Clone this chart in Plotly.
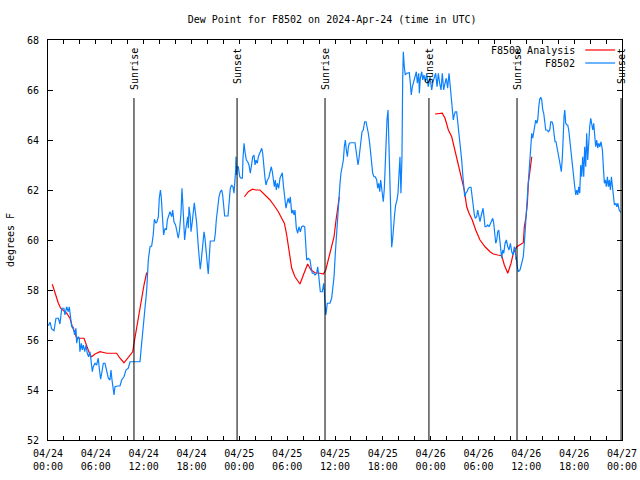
import pandas as pd
import plotly.graph_objects as go

# ---------------- data ----------------
start = pd.Timestamp("2024-04-24 00:00")

# F8502 observations: hours since 04/24 00:00 UTC, dew point (F)
obs_hours = [0.04, 0.25, 0.46, 0.75, 1.0, 1.3, 1.5, 1.72, 2.0, 2.13, 2.34, 2.55, 2.67, 2.84, 2.97, 3.18, 3.34, 3.5, 3.6, 3.76,
             3.93, 4.0, 4.18, 4.3, 4.43, 4.6, 4.77, 4.93, 5.1, 5.27, 5.39, 5.56, 5.68, 5.9, 6.1, 6.3, 6.43, 6.6, 6.77, 6.94,
             7.15, 7.36, 7.57, 7.78, 7.9, 8.03, 8.28, 8.4, 8.7, 9.03, 9.24, 9.53, 9.78, 10.07, 10.29, 10.7, 11.54, 11.67, 11.96, 12.17,
             12.38, 12.58, 12.8, 13.0, 13.2, 13.34, 13.55, 13.67, 13.84, 13.96, 14.1, 14.2, 14.34, 14.5, 14.68, 14.85, 14.97, 15.1, 15.3, 15.52,
             15.64, 15.8, 16.0, 16.18, 16.34, 16.5, 16.68, 16.81, 16.93, 17.06, 17.14, 17.27, 17.4, 17.52, 17.6, 17.69, 17.85, 17.94, 18.1, 18.23,
             18.35, 18.48, 18.65, 18.85, 18.98, 19.1, 19.23, 19.4, 19.57, 19.69, 19.86, 19.98, 20.1, 20.23, 20.36, 20.86, 20.99, 21.11, 21.28, 21.45,
             21.61, 21.79, 21.91, 22.04, 22.16, 22.58, 22.7, 22.87, 23.04, 23.2, 23.33, 23.42, 23.54, 23.58, 23.66, 23.71, 23.87, 24.05, 24.21, 24.38,
             24.46, 24.59, 24.71, 24.88, 25.05, 25.21, 25.38, 25.55, 25.68, 25.84, 25.97, 26.09, 26.26, 26.38, 26.59, 26.81, 26.93, 27.06, 27.22, 27.35,
             27.51, 27.68, 27.85, 28.01, 28.14, 28.26, 28.39, 28.51, 28.64, 28.77, 28.94, 29.1, 29.23, 29.39, 29.52, 29.69, 29.85, 30.02, 30.14, 30.27,
             30.39, 30.57, 30.73, 30.86, 30.98, 31.15, 31.32, 31.48, 31.65, 31.82, 32.03, 32.2, 32.32, 32.45, 32.66, 32.87, 32.99, 33.15, 33.33, 33.49,
             33.7, 33.83, 33.95, 34.08, 34.16, 34.41, 34.58, 34.66, 34.78, 34.84, 34.9, 35.03, 35.37, 35.58, 35.71, 35.88, 36.04, 36.22, 36.34, 36.5,
             36.63, 36.75, 36.88, 37.05, 37.17, 37.3, 37.42, 37.55, 37.68, 37.8, 37.98, 38.22, 38.51, 38.63, 38.76, 38.89, 39.01, 39.14, 39.26, 39.39,
             39.55, 39.72, 39.89, 40.05, 40.18, 40.35, 40.48, 40.6, 40.73, 40.89, 41.06, 41.23, 41.36, 41.48, 41.61, 41.73, 41.86, 41.98, 42.06, 42.19,
             42.27, 42.4, 42.52, 42.65, 42.73, 42.81, 42.9, 43.02, 43.11, 43.24, 43.36, 43.49, 43.61, 43.78, 43.9, 43.99, 44.07, 44.15, 44.27, 44.4,
             44.49, 44.57, 44.69, 44.82, 44.99, 45.16, 45.32, 45.45, 45.57, 45.7, 45.87, 46.04, 46.2, 46.33, 46.5, 46.58, 46.7, 46.88, 47.0, 47.16,
             47.33, 47.5, 47.7, 47.92, 48.13, 48.29, 48.46, 48.63, 48.8, 48.96, 49.13, 49.3, 49.46, 49.63, 49.8, 49.96, 50.13, 50.3, 50.46, 50.59,
             50.71, 50.84, 50.96, 51.09, 51.26, 51.38, 51.51, 51.63, 51.77, 51.89, 52.01, 52.14, 52.27, 52.39, 52.56, 52.73, 52.89, 53.06, 53.18, 53.31,
             53.48, 53.6, 53.77, 53.9, 54.02, 54.19, 54.31, 54.44, 54.57, 54.69, 54.82, 54.98, 55.16, 55.32, 55.48, 55.66, 55.79, 55.91, 56.04, 56.16,
             56.29, 56.41, 56.54, 56.67, 56.79, 56.91, 57.04, 57.17, 57.33, 57.49, 57.67, 57.83, 58.0, 58.17, 58.34, 58.49, 58.62, 58.7, 58.74, 58.87,
             58.99, 59.21, 59.42, 59.62, 59.75, 59.92, 60.05, 60.18, 60.3, 60.43, 60.55, 60.68, 60.8, 60.93, 61.06, 61.18, 61.31, 61.43, 61.56, 61.68,
             61.81, 61.93, 62.06, 62.18, 62.31, 62.43, 62.6, 62.76, 62.94, 63.06, 63.22, 63.35, 63.47, 63.6, 63.72, 63.85, 64.02, 64.14, 64.27, 64.39,
             64.52, 64.61, 64.73, 64.82, 64.94, 65.07, 65.19, 65.32, 65.44, 65.57, 65.7, 65.82, 65.95, 66.07, 66.2, 66.32, 66.45, 66.57, 66.7, 66.82,
             66.95, 67.07, 67.2, 67.32, 67.45, 67.57, 67.7, 67.83, 67.95, 68.08, 68.2, 68.33, 68.45, 68.58, 68.7, 68.83, 68.96, 69.08, 69.21, 69.37,
             69.54, 69.67, 69.79, 69.92, 70.04, 70.17, 70.3, 70.42, 70.55, 70.67, 70.8, 70.93, 71.05, 71.22, 71.35, 71.48, 71.64, 71.85]
obs_dewpt = [56.57, 56.71, 56.44, 56.37, 56.87, 56.87, 56.64, 57.27, 57.27, 57.0, 57.33, 57.13, 57.33, 56.93, 56.53, 56.51, 56.2, 56.47, 55.87, 56.13,
             56.07, 55.53, 55.87, 55.6, 55.8, 55.53, 55.8, 55.47, 55.33, 55.53, 55.13, 54.73, 54.93, 55.07, 55.0, 55.27, 54.87, 54.43, 54.73, 55.07,
             55.07, 54.73, 54.47, 54.4, 54.8, 54.4, 53.8, 54.13, 54.16, 54.16, 54.4, 54.53, 54.8, 54.87, 55.13, 55.13, 55.13, 55.6, 56.53, 57.33,
             58.0, 59.2, 59.73, 59.76, 60.2, 60.83, 60.67, 60.73, 60.93, 61.67, 62.0, 61.73, 60.93, 60.2, 60.47, 60.4, 60.8, 60.93, 61.13, 60.93,
             61.2, 60.73, 60.6, 60.33, 60.07, 60.4, 61.07, 62.07, 61.47, 60.67, 60.0, 60.4, 60.8, 60.93, 60.47, 61.33, 60.93, 60.33, 60.73, 61.33,
             61.49, 61.13, 60.67, 59.73, 59.2, 58.83, 59.2, 59.87, 60.33, 60.07, 59.47, 58.93, 58.64, 59.33, 59.96, 59.96, 60.27, 60.8, 61.33, 61.73,
             61.93, 62.0, 61.8, 61.2, 60.96, 60.96, 61.6, 62.07, 62.2, 62.13, 61.87, 62.2, 62.8, 63.33, 62.6, 62.93, 62.93, 62.53, 62.47, 62.47,
             63.27, 63.87, 63.53, 63.2, 63.13, 63.0, 62.67, 63.07, 63.33, 63.4, 63.0, 63.2, 63.07, 63.33, 63.53, 63.67, 63.47, 62.93, 62.47, 62.2,
             62.4, 62.47, 62.67, 62.93, 62.73, 62.4, 62.13, 62.4, 62.0, 62.27, 62.07, 62.47, 62.6, 62.69, 62.2, 61.73, 61.27, 61.53, 61.67, 61.47,
             61.73, 61.07, 61.2, 61.0, 61.2, 60.47, 60.27, 60.53, 60.33, 60.53, 60.56, 60.53, 59.73, 59.2, 59.27, 59.2, 58.93, 58.67, 58.67, 58.6,
             58.67, 58.93, 58.6, 58.27, 57.93, 57.93, 58.27, 57.93, 57.33, 57.0, 57.1, 57.47, 57.47, 57.67, 58.07, 58.53, 59.47, 60.4, 61.2, 61.73,
             62.27, 62.67, 62.93, 63.2, 63.73, 64.0, 63.6, 63.33, 63.73, 63.87, 63.89, 63.89, 63.89, 63.6, 63.2, 63.0, 63.27, 63.6, 64.0, 64.33,
             64.4, 64.73, 64.73, 64.53, 64.27, 63.87, 63.47, 62.93, 62.67, 62.53, 62.53, 62.4, 62.07, 62.27, 61.93, 62.4, 62.0, 61.73, 61.53, 62.07,
             62.93, 64.0, 64.8, 65.2, 64.27, 63.07, 61.73, 60.4, 59.71, 60.07, 60.67, 61.07, 61.4, 61.6, 61.87, 62.27, 62.93, 63.33, 61.87, 63.33,
             66.4, 67.53, 66.93, 66.6, 66.67, 66.69, 66.69, 66.27, 65.8, 66.13, 66.33, 66.47, 66.73, 66.27, 66.67, 65.87, 66.47, 66.73, 66.4, 66.6,
             66.33, 66.67, 66.13, 66.53, 66.0, 66.33, 66.53, 66.67, 66.13, 66.67, 66.27, 66.0, 66.67, 66.0, 66.27, 66.47, 66.07, 66.67, 66.13, 65.6,
             65.2, 64.8, 65.0, 65.13, 65.13, 64.8, 64.4, 64.0, 63.6, 63.2, 62.67, 62.13, 61.73, 61.87, 61.93, 62.07, 62.11, 62.11, 61.73, 61.33,
             61.0, 60.87, 60.93, 61.2, 61.0, 60.73, 60.93, 61.13, 61.27, 60.93, 60.53, 60.53, 60.6, 60.53, 60.67, 60.8, 60.87, 60.67, 60.2, 59.87,
             60.0, 60.33, 60.4, 60.0, 59.6, 59.27, 59.6, 59.47, 59.87, 60.0, 59.73, 59.6, 59.87, 59.53, 59.4, 59.73, 59.6, 59.2, 59.33, 58.93,
             58.73, 58.8, 59.07, 59.33, 59.87, 60.53, 61.33, 62.0, 62.67, 63.33, 63.93, 64.27, 64.07, 64.27, 64.6, 64.8, 64.67, 64.8, 65.33, 65.63,
             65.71, 65.6, 65.2, 65.07, 64.73, 64.4, 64.4, 64.33, 64.4, 64.73, 64.73, 64.6, 64.27, 63.93, 63.93, 63.6, 63.4, 63.2, 63.0, 62.73,
             63.33, 64.53, 64.93, 65.2, 64.67, 64.6, 64.6, 64.4, 64.0, 63.6, 63.2, 62.8, 62.4, 62.13, 61.8, 62.0, 61.8, 62.13, 61.87, 63.0,
             62.53, 63.33, 62.53, 63.73, 62.93, 64.27, 63.2, 64.27, 64.53, 64.87, 64.67, 64.4, 64.67, 64.13, 63.73, 64.0, 63.67, 63.87, 63.73, 63.93,
             63.6, 62.87, 62.27, 62.4, 62.13, 62.53, 62.13, 62.4, 62.0, 62.53, 62.13, 61.8, 61.4, 61.47, 61.33, 61.47, 61.2, 61.1]

# F8502 Analysis: hours since 04/24 00:00 UTC, dew point (F); None = no analysis
ana_hours = [0.54, 0.88, 1.3, 1.59, 1.92, 2.34, 2.76, 3.05, 3.39, 3.6, 4.52, 4.77, 5.06, 5.27, 5.48, 5.9, 6.52, 7.36, 8.61, 9.03,
             9.53, 9.95, 10.29, 10.62, 10.79, 11.12, 11.41, 11.75, 12.04, 12.38, 18.0,
             24.63, 25.13, 25.63, 26.05, 26.59, 27.22, 27.85, 28.47, 28.89, 29.31, 29.65, 29.94, 30.15, 30.36, 30.57, 30.98, 31.61, 32.03, 32.32,
             32.57, 32.99, 33.49, 34.12, 34.53, 34.84, 35.09, 35.37, 35.58, 35.88, 36.13, 36.34, 36.54, 42.0,
             48.55, 49.46, 49.8, 50.22, 50.64, 51.05, 51.47, 51.89, 52.22, 52.52, 52.81, 53.22, 53.65, 54.19, 54.82, 55.44, 55.86, 56.41, 56.91, 57.24,
             57.67, 58.08, 58.37, 58.8, 59.21, 59.62, 59.75, 59.96, 60.13, 60.25, 60.47, 60.68]
ana_dewpt = [58.23, 57.87, 57.47, 57.27, 57.17, 57.07, 56.87, 56.53, 56.27, 56.07, 56.07, 55.87, 55.6, 55.4, 55.33, 55.44, 55.53, 55.47, 55.47, 55.27,
             55.09, 55.27, 55.4, 55.53, 55.87, 56.53, 57.07, 57.73, 58.2, 58.7, None,
             61.73, 61.93, 62.03, 62.0, 62.0, 61.8, 61.6, 61.33, 61.13, 60.87, 60.67, 60.2, 59.73, 59.33, 58.87, 58.53, 58.24, 58.6, 58.83,
             59.04, 58.8, 58.69, 58.67, 58.64, 58.8, 59.13, 59.4, 59.67, 60.13, 60.8, 61.33, 61.73, None,
             65.04, 65.07, 64.87, 64.4, 64.13, 63.6, 63.07, 62.53, 62.0, 61.33, 61.07, 60.8, 60.4, 60.0, 59.73, 59.53, 59.44, 59.4, 59.37, 59.0,
             58.67, 59.07, 59.47, 59.73, 59.8, 59.89, 60.53, 60.93, 61.47, 62.27, 62.8, 63.33]

sun_labels = ["Sunrise", "Sunset", "Sunrise", "Sunset", "Sunrise", "Sunset"]
sun_times = ["2024-04-24 10:47", "2024-04-24 23:43", "2024-04-25 10:45",
             "2024-04-25 23:47", "2024-04-26 10:50", "2024-04-26 23:53"]

tick_labels = ["04/24<br>00:00", "04/24<br>06:00", "04/24<br>12:00", "04/24<br>18:00",
               "04/25<br>00:00", "04/25<br>06:00", "04/25<br>12:00", "04/25<br>18:00",
               "04/26<br>00:00", "04/26<br>06:00", "04/26<br>12:00", "04/26<br>18:00",
               "04/27<br>00:00"]
y_ticks = [52, 54, 56, 58, 60, 62, 64, 66, 68]

series_names = ["F8502 Analysis", "F8502"]
series_colors = ["#ff0000", "#0a80ff"]

# ---------------- figure ----------------
FONT = "DejaVu Sans Mono"
FS = 10
obs_t = start + pd.to_timedelta(obs_hours, unit="h")
ana_t = start + pd.to_timedelta(ana_hours, unit="h")

fig = go.Figure()
fig.add_trace(go.Scatter(x=ana_t, y=ana_dewpt, mode="lines", name=series_names[0],
                         line=dict(color=series_colors[0], width=1.2), connectgaps=False))
fig.add_trace(go.Scatter(x=obs_t, y=obs_dewpt, mode="lines", name=series_names[1],
                         line=dict(color=series_colors[1], width=1.2)))

# x ticks every 2 h, labels every 6 h
tickvals = [start + pd.Timedelta(hours=h) for h in range(0, 73, 2)]
ticktext = [tick_labels[h // 6] if h % 6 == 0 else "" for h in range(0, 73, 2)]

# sunrise / sunset lines and labels
for lab, t in zip(sun_labels, sun_times):
    fig.add_shape(type="line", xref="x", yref="paper", x0=t, x1=t, y0=0, y1=0.855,
                  line=dict(color="black", width=1))
    fig.add_annotation(x=t, xref="x", y=0.985, yref="paper", text=lab, textangle=-90,
                       showarrow=False, xanchor="center", yanchor="top",
                       font=dict(family=FONT, size=FS, color="black"))

# legend (gnuplot style: text then line sample)
leg_y = [0.975, 0.9425]
for name, col, yy in zip(series_names, series_colors, leg_y):
    fig.add_annotation(x=0.922, xref="paper", y=yy, yref="paper", text=name, showarrow=False,
                       xanchor="right", yanchor="middle", font=dict(family=FONT, size=FS, color="black"))
    fig.add_shape(type="line", xref="paper", yref="paper", x0=0.936, x1=0.988, y0=yy, y1=yy,
                  line=dict(color=col, width=1.2))

fig.add_annotation(x=-0.066, xref="paper", y=0.5, yref="paper", text="degrees F", textangle=-90,
                   showarrow=False, xanchor="center", yanchor="middle",
                   font=dict(family=FONT, size=FS, color="black"))

fig.update_layout(
    width=640, height=480,
    margin=dict(l=48, r=18, t=40, b=40, autoexpand=False),
    paper_bgcolor="white", plot_bgcolor="white",
    showlegend=False,
    title=dict(text="Dew Point for F8502 on 2024-Apr-24 (time in UTC)", x=0.519, xanchor="center",
               y=0.96, yanchor="middle", yref="container",
               font=dict(family=FONT, size=FS, color="black")),
    font=dict(family=FONT, size=FS, color="black"),
)
fig.update_xaxes(range=[start, start + pd.Timedelta(hours=72)], tickmode="array",
                 tickvals=tickvals, ticktext=ticktext, ticks="inside", ticklen=4,
                 tickcolor="black", showline=True, linecolor="black", linewidth=1,
                 mirror="ticks", showgrid=False, zeroline=False, automargin=False,
                 ticklabelstandoff=4,
                 tickfont=dict(family=FONT, size=FS, color="black"))
fig.update_yaxes(range=[52, 68], tickmode="array", tickvals=y_ticks,
                 ticktext=[str(v) for v in y_ticks], ticks="inside", ticklen=5,
                 tickcolor="black", showline=True, linecolor="black", linewidth=1,
                 mirror="ticks", showgrid=False, zeroline=False, ticklabelstandoff=6,
                 automargin=False,
                 tickfont=dict(family=FONT, size=FS, color="black"))

fig.write_html("out.html", config={"displayModeBar": False},
               post_script="document.body.style.margin='0';document.body.style.overflow='hidden';")
